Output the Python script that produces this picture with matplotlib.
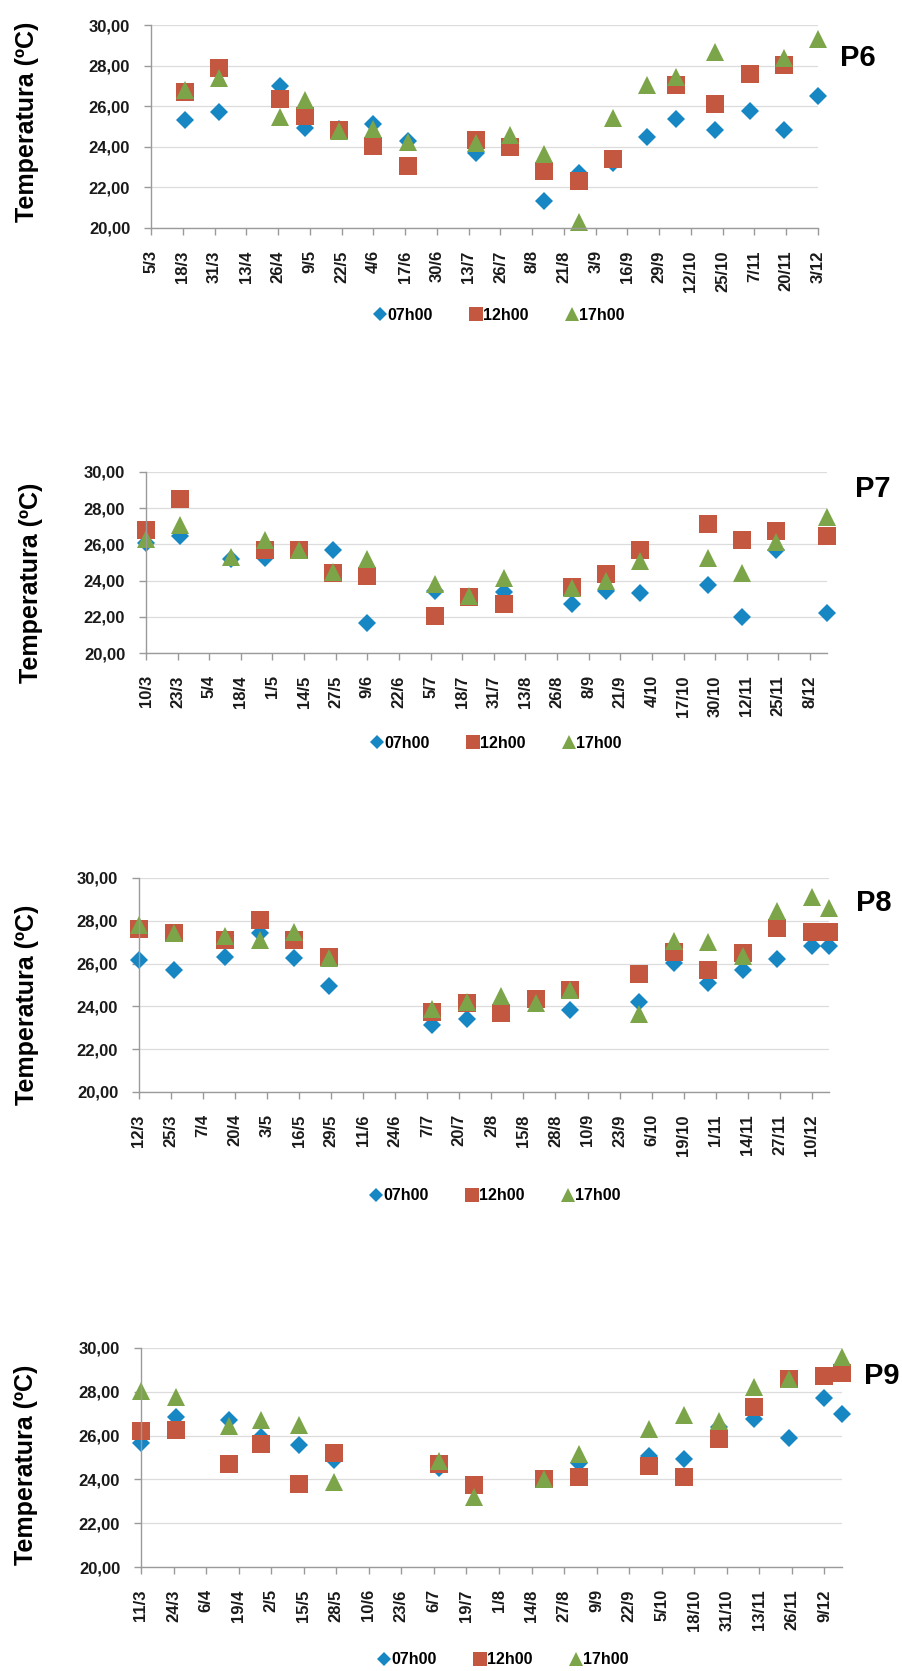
import numpy as np
import pandas as pd
import matplotlib
matplotlib.use('Agg')
import matplotlib.pyplot as plt
import matplotlib.dates as mdates
from matplotlib.lines import Line2D

plt.rcParams['font.family'] = ['Liberation Sans', 'DejaVu Sans']
plt.rcParams['font.weight'] = 'bold'

ANO = 2011
nan = np.nan

# ---- P6 ----
datas_p6 = ['19/3', '2/4', '27/4', '7/5', '21/5', '4/6', '18/6', '16/7', '30/7',
            '13/8', '27/8', '10/9', '24/9', '6/10', '22/10', '5/11', '19/11', '3/12']
p6_07h = [25.3, 25.7, 27.0, 24.95, 24.9, 25.1, 24.3, 23.7, 24.0,
          21.35, 22.7, 23.2, 24.5, 25.35, 24.85, 25.75, 24.85, 26.5]
p6_12h = [26.7, 27.9, 26.35, 25.5, 24.85, 24.05, 23.05, 24.35, 24.0,
          22.8, 22.3, 23.4, nan, 27.05, 26.1, 27.6, 28.05, nan]
p6_17h = [26.8, 27.4, 25.45, 26.3, 24.8, 24.9, 24.25, 24.2, 24.6,
          23.65, 20.3, 25.4, 27.05, 27.45, 28.65, nan, 28.35, 29.3]

# ---- P7 ----
datas_p7 = ['10/3', '24/3', '14/4', '28/4', '12/5', '26/5', '9/6', '7/7', '21/7',
            '4/8', '1/9', '15/9', '29/9', '27/10', '10/11', '24/11', '15/12']
p7_07h = [26.1, 26.45, 25.2, 25.25, 25.7, 25.7, 21.65, 23.4, 23.1,
          23.35, 22.7, 23.4, 23.3, 23.75, 22.0, 25.7, 22.2]
p7_12h = [26.8, 28.5, nan, 25.7, 25.7, 24.4, 24.25, 22.05, 23.1,
          22.7, 23.65, 24.35, 25.7, 27.1, 26.25, 26.75, 26.45]
p7_17h = [26.3, 27.05, 25.3, 26.25, 25.7, 24.45, 25.2, 23.8, 23.15,
          24.15, 23.6, 24.0, 25.1, 25.25, 24.4, 26.15, 27.5]

# ---- P8 ----
datas_p8 = ['12/3', '26/3', '16/4', '30/4', '14/5', '28/5', '9/7', '23/7', '6/8',
            '20/8', '3/9', '1/10', '15/10', '29/10', '12/11', '26/11', '10/12', '17/12']
p8_07h = [26.15, 25.7, 26.3, 27.45, 26.25, 24.95, 23.15, 23.4, 23.7,
          24.3, 23.85, 24.2, 26.05, 25.1, 25.7, 26.2, 26.8, 26.8]
p8_12h = [27.6, 27.45, 27.1, 28.05, 27.1, 26.3, 23.75, 24.15, 23.7,
          24.35, 24.75, 25.5, 26.55, 25.7, 26.5, 27.65, 27.5, 27.5]
p8_17h = [27.8, 27.45, 27.3, 27.1, 27.5, 26.25, 23.9, 24.2, 24.5,
          24.15, 24.75, 23.65, 27.05, 27.0, 26.35, 28.45, 29.1, 28.6]

# ---- P9 ----
datas_p9 = ['11/3', '25/3', '15/4', '28/4', '13/5', '27/5', '8/7', '22/7', '19/8',
            '2/9', '30/9', '14/10', '28/10', '11/11', '25/11', '9/12', '16/12']
p9_07h = [25.65, 26.85, 26.7, 25.95, 25.55, 24.9, 24.5, 23.7, 24.0,
          24.75, 25.05, 24.95, 26.4, 26.75, 25.9, 27.7, 27.0]
p9_12h = [26.2, 26.25, 24.7, 25.6, 23.8, 25.2, 24.7, 23.75, 24.0,
          24.1, 24.6, 24.1, 25.85, 27.3, 28.6, 28.7, 28.85]
p9_17h = [28.05, 27.75, 26.45, 26.7, 26.5, 23.9, 24.85, 23.2, 24.0,
          25.15, 26.3, 26.95, 26.65, 28.2, 28.6, nan, 29.6]

series_labels = ['07h00', '12h00', '17h00']

# nome, datas, series, inicio/fim do eixo x
paineis = [
    ('P6', datas_p6, [p6_07h, p6_12h, p6_17h], '5/3', '3/12'),
    ('P7', datas_p7, [p7_07h, p7_12h, p7_17h], '10/3', '15/12'),
    ('P8', datas_p8, [p8_07h, p8_12h, p8_17h], '12/3', '17/12'),
    ('P9', datas_p9, [p9_07h, p9_12h, p9_17h], '11/3', '16/12'),
]

# layout em pixels: (esq, dir, topo, base), rótulo painel, ylabel, legenda
caixas = [(151, 818, 25, 228), (146, 827, 472, 653),
          (139, 829, 878, 1092), (141, 842, 1348, 1567)]
pos_painel = [(858, 58), (873, 489), (874, 903), (882, 1376)]
pos_ylabel = [(27, 122), (31, 583), (27, 1005), (26, 1465)]
pos_legenda = [(500, 315), (497, 743), (496, 1196), (504, 1660)]

cores = ['#1787C4', '#C4573F', '#7BA548']
marcadores = ['D', 's', '^']
tamanhos = [9.5, 13.5, 12.5]

W, H = 902, 1671
fig = plt.figure(figsize=(W / 100, H / 100), dpi=100)


def to_num(d):
    return mdates.date2num(pd.to_datetime(f'{d}/{ANO}', format='%d/%m/%Y'))


for i, (nome, datas, series, x0, x1) in enumerate(paineis):
    l, r, t, b = caixas[i]
    ax = fig.add_axes([l / W, 1 - b / H, (r - l) / W, (b - t) / H])
    x = [to_num(d) for d in datas]
    for s, cor, mk, ms in zip(series, cores, marcadores, tamanhos):
        ax.plot(x, s, linestyle='none', marker=mk, markersize=ms, color=cor,
                markeredgewidth=0, clip_on=False)

    xmin, xmax = to_num(x0), to_num(x1)
    ax.set_xlim(xmin, xmax)
    ticks = np.arange(xmin, xmax + 0.1, 13)
    ax.set_xticks(ticks)
    ax.set_xticklabels([f'{mdates.num2date(v).day}/{mdates.num2date(v).month}' for v in ticks],
                       rotation=90, fontsize=12, fontweight='bold')
    ax.set_ylim(20, 30)
    ax.set_yticks(np.arange(20, 30.1, 2))
    ax.set_yticklabels([f'{v:.2f}'.replace('.', ',') for v in np.arange(20, 30.1, 2)],
                       fontsize=12, fontweight='bold')

    for sp in ['top', 'right']:
        ax.spines[sp].set_visible(False)
    for sp in ['left', 'bottom']:
        ax.spines[sp].set_color('#9a9a9a')
        ax.spines[sp].set_linewidth(1.0)
    ax.tick_params(axis='x', length=5, width=1, color='#9a9a9a', pad=11, labelcolor='#1a1a1a')
    ax.tick_params(axis='y', length=5, width=1, color='#9a9a9a', pad=10, labelcolor='#1a1a1a')
    ax.yaxis.grid(True, color='#dcdcdc', linewidth=0.9)
    ax.set_axisbelow(True)

    px, py = pos_painel[i]
    fig.text(px / W, 1 - py / H, nome, fontsize=21, fontweight='bold',
             ha='center', va='center')
    lx, ly = pos_ylabel[i]
    fig.text(lx / W, 1 - ly / H, 'Temperatura (ºC)', fontsize=18, fontweight='bold',
             rotation=90, ha='center', va='center')

    handles = [Line2D([], [], linestyle='none', marker=mk, color=cor, markeredgewidth=0,
                      markersize=ms)
               for mk, cor, ms in zip(marcadores, cores, [7.5, 10.5, 9.5])]
    gx, gy = pos_legenda[i]
    fig.legend(handles, series_labels, loc='center', bbox_to_anchor=(gx / W, 1 - gy / H),
               ncol=3, frameon=False, handlelength=0.6, handletextpad=0.15,
               columnspacing=2.4, prop={'size': 11.5, 'weight': 'bold'})

fig.savefig('out.png', dpi=100)
